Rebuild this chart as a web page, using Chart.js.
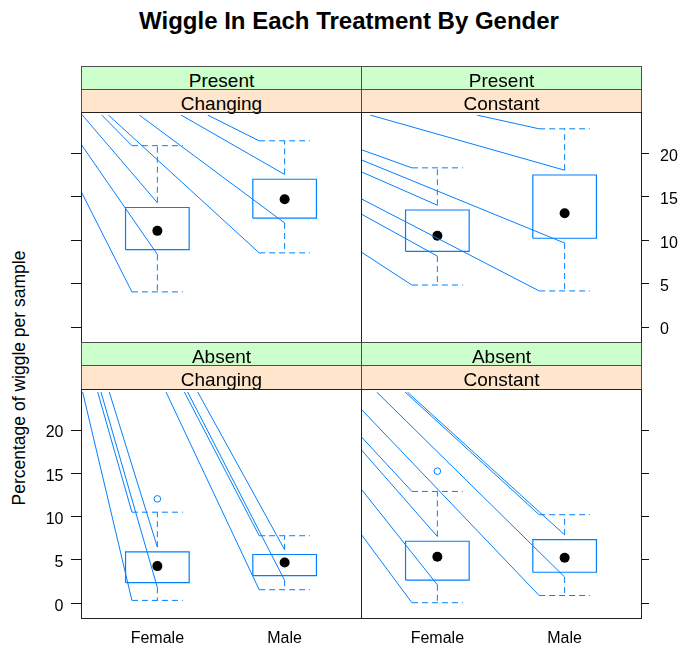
<!DOCTYPE html>
<html><head><meta charset="utf-8">
<script src="https://cdn.jsdelivr.net/npm/chart.js@4"></script>
<style>
html,body{margin:0;padding:0;background:#fff}
body{width:678px;height:646px;position:relative;overflow:hidden;font-family:"Liberation Sans",Arial,sans-serif;color:#000}
canvas{position:absolute}
.strip{position:absolute;box-sizing:border-box;border:1px solid #4d4d4d}
.strip span{position:absolute;left:0;right:0;text-align:center;font-size:19px;line-height:19px;white-space:nowrap}
.frame{position:absolute;box-sizing:border-box;border:1px solid #222;pointer-events:none}
.tl{position:absolute;font-size:16px;line-height:16px;white-space:nowrap}
</style></head><body>
<div id="title" style="position:absolute;left:0;width:698px;top:9px;text-align:center;font-weight:bold;font-size:24px;line-height:24px">Wiggle In Each Treatment By Gender</div>
<div id="ylab" style="position:absolute;left:19px;top:378px;transform:translate(-50%,-50%) rotate(-90deg);white-space:nowrap;font-size:17.5px;line-height:17px">Percentage of wiggle per sample</div>
<script>
// ---------- data ----------
const genders = ["Female", "Male"];
const presence = ["Present", "Absent"];      // outer strip (green)
const wiggleType = ["Changing", "Constant"]; // inner strip (peach)
const yTicks = [0, 5, 10, 15, 20];

// five-number summaries: [lower whisker, Q1, median, Q3, upper whisker]
const presentChangingFemale = [4.0, 8.86, 11.02, 13.71, 20.82];
const presentChangingMale   = [8.49, 12.48, 14.65, 16.96, 21.38];
const presentConstantFemale = [4.79, 8.67, 10.46, 13.42, 18.27];
const presentConstantMale   = [4.11, 10.17, 13.04, 17.45, 22.76];
const absentChangingFemale  = [0.27, 2.32, 4.23, 5.87, 10.46];
const absentChangingMale    = [1.50, 3.14, 4.64, 5.57, 7.74];
const absentConstantFemale  = [0.0, 2.62, 5.31, 7.10, 12.86];
const absentConstantMale    = [0.83, 3.52, 5.20, 7.29, 10.17];

// outliers
const absentChangingFemaleOut = [12.0];
const absentConstantFemaleOut = [15.2];

// stray connector lines: [gender, target, start x (category units), start y (null = enters from top)]
const presentChangingLeaders = [
  ["Female","capHi",0.563,null],["Female","whiskHi",0.41,null],["Female","whiskLo",0.4,21.0],["Female","capLo",0.4,15.58],
  ["Male","capHi",1.395,null],["Male","whiskHi",1.186,null],["Male","whiskLo",0.858,null],["Male","capLo",0.615,null]
];
const presentConstantLeaders = [
  ["Female","capHi",0.4,20.37],["Female","whiskHi",0.4,17.83],["Female","whiskLo",0.4,12.97],["Female","capLo",0.4,8.6],
  ["Male","capHi",1.309,null],["Male","whiskHi",0.471,null],["Male","whiskLo",0.4,19.2],["Male","capLo",0.4,14.72]
];
const absentChangingLeaders = [
  ["Female","capHi",0.531,null],["Female","whiskHi",0.622,null],["Female","whiskLo",0.557,null],["Female","capLo",0.413,null],
  ["Male","capHi",1.212,null],["Male","whiskHi",1.317,null],["Male","whiskLo",1.238,null],["Male","capLo",1.068,null]
];
const absentConstantLeaders = [
  ["Female","capHi",0.4,19.21],["Female","whiskHi",0.4,17.71],["Female","whiskLo",0.4,13.16],["Female","capLo",0.4,7.93],
  ["Male","capHi",0.746,null],["Male","whiskHi",0.764,null],["Male","whiskLo",0.523,null],["Male","capLo",0.4,22.39]
];

// ---------- styling / layout ----------
const BLUE = "#0080ff";
const X_MIN = 0.4, X_MAX = 2.6, Y_MIN = -1.42, Y_MAX = 24.35;
const BOX_HALF = 0.25, CAP_HALF = 0.2, WHISK_GAP = 0.55;
const DASH = [6, 4];
const PADX = 14, PADY = 2;

const panels = [
  {outer:0, inner:0, col:0, row:0, F:presentChangingFemale, M:presentChangingMale, outF:[], outM:[], leaders:presentChangingLeaders},
  {outer:0, inner:1, col:1, row:0, F:presentConstantFemale, M:presentConstantMale, outF:[], outM:[], leaders:presentConstantLeaders},
  {outer:1, inner:0, col:0, row:1, F:absentChangingFemale, M:absentChangingMale, outF:absentChangingFemaleOut, outM:[], leaders:absentChangingLeaders},
  {outer:1, inner:1, col:1, row:1, F:absentConstantFemale, M:absentConstantMale, outF:absentConstantFemaleOut, outM:[], leaders:absentConstantLeaders}
];

const colX = [81, 361];
const rowGeom = [
  {s1:66, s2:89, plot:112, h:230},
  {s1:342, s2:365, plot:389, h:229}
];

function seg(data, dash, width) {
  return {type:"scatter", data, showLine:true, borderColor:BLUE, borderWidth:width||1,
          borderDash:dash||[], pointRadius:0, tension:0, fill:false};
}

function el(tag, cls, styles, text) {
  const e = document.createElement(tag);
  if (cls) e.className = cls;
  Object.assign(e.style, styles);
  if (text !== undefined) e.textContent = text;
  document.body.appendChild(e);
  return e;
}

// tick marks drawn from the chart's own y scale
const tickPlugin = {
  id: "latticeTicks",
  afterDraw(chart, args, opts) {
    const ctx = chart.ctx, a = chart.chartArea, ys = chart.scales.y;
    ctx.save();
    ctx.strokeStyle = "#111"; ctx.lineWidth = 1;
    yTicks.forEach(v => {
      const py = Math.round(ys.getPixelForValue(v)) + 0.5;
      ctx.beginPath();
      if (opts.side === "left") { ctx.moveTo(a.left - 10, py); ctx.lineTo(a.left, py); }
      else { ctx.moveTo(a.right, py); ctx.lineTo(a.right + 8, py); }
      ctx.stroke();
    });
    ctx.restore();
  }
};

panels.forEach(p => {
  const g = rowGeom[p.row];
  const left = colX[p.col];
  // strips
  const s1 = el("div", "strip", {left:left+"px", top:g.s1+"px", width:"281px", height:(g.s2-g.s1+1)+"px", background:"#ccffcc"});
  const t1 = document.createElement("span"); t1.textContent = presence[p.outer]; t1.style.top = "3.6px"; s1.appendChild(t1);
  const s2 = el("div", "strip", {left:left+"px", top:g.s2+"px", width:"281px", height:(g.plot-g.s2+1)+"px", background:"#ffe5cc"});
  const t2 = document.createElement("span"); t2.textContent = wiggleType[p.inner]; t2.style.top = "3.6px"; s2.appendChild(t2);

  // canvas: plot area plus a small margin for tick marks
  const cv = document.createElement("canvas");
  const cw = 280 + 2*PADX, ch = g.h + 2*PADY;
  cv.width = cw; cv.height = ch;
  cv.style.left = (left - PADX) + "px";
  cv.style.top = (g.plot - PADY) + "px";
  cv.style.width = cw + "px"; cv.style.height = ch + "px";
  document.body.appendChild(cv);

  const datasets = [];
  const stats = {Female:p.F, Male:p.M};
  const outs = {Female:p.outF, Male:p.outM};
  genders.forEach((gname, i) => {
    const x = i + 1;
    const s = stats[gname];
    datasets.push(seg([{x:x-BOX_HALF,y:s[1]},{x:x+BOX_HALF,y:s[1]},{x:x+BOX_HALF,y:s[3]},{x:x-BOX_HALF,y:s[3]},{x:x-BOX_HALF,y:s[1]}], [], 1.2));
    datasets.push(seg([{x:x,y:s[3]+WHISK_GAP},{x:x,y:s[4]}], DASH));
    datasets.push(seg([{x:x,y:s[1]-WHISK_GAP},{x:x,y:s[0]}], DASH));
    datasets.push(seg([{x:x-CAP_HALF,y:s[4]},{x:x+CAP_HALF,y:s[4]}], DASH));
    datasets.push(seg([{x:x-CAP_HALF,y:s[0]},{x:x+CAP_HALF,y:s[0]}], DASH));
    if (outs[gname].length) {
      datasets.push({type:"scatter", data:outs[gname].map(v => ({x:x, y:v})), pointRadius:3.3,
        pointBorderColor:BLUE, pointBackgroundColor:"rgba(0,0,0,0)", pointBorderWidth:1, showLine:false});
    }
  });
  p.leaders.forEach(l => {
    const gi = genders.indexOf(l[0]);
    const x = gi + 1, s = stats[l[0]];
    const ends = {
      capHi:{x:x-CAP_HALF, y:s[4]}, whiskHi:{x:x, y:s[3]+WHISK_GAP},
      whiskLo:{x:x, y:s[1]-WHISK_GAP}, capLo:{x:x-CAP_HALF, y:s[0]}
    };
    datasets.push(seg([{x:l[2], y:(l[3] === null ? Y_MAX : l[3])}, ends[l[1]]], [], 1));
  });
  datasets.push({type:"scatter", data:genders.map((gname,i) => ({x:i+1, y:stats[gname][2]})),
    pointRadius:5, pointBackgroundColor:"#000", pointBorderWidth:0, showLine:false});

  const side = p.col === 0 ? "left" : "right";
  const showYLabels = (p.row === 0 && p.col === 1) || (p.row === 1 && p.col === 0);

  const chart = new Chart(cv, {
    type:"scatter",
    data:{datasets},
    plugins:[tickPlugin],
    options:{
      responsive:false, animation:false, devicePixelRatio:1, events:[],
      layout:{padding:{left:PADX,right:PADX,top:PADY,bottom:PADY}},
      plugins:{legend:{display:false}, tooltip:{enabled:false}, title:{display:false}, latticeTicks:{side}},
      scales:{
        x:{type:"linear", min:X_MIN, max:X_MAX, display:false},
        y:{type:"linear", min:Y_MIN, max:Y_MAX, display:false}
      }
    }
  });

  // tick labels positioned through the chart's scales
  const cTop = g.plot - PADY, cLeft = left - PADX;
  if (showYLabels) {
    yTicks.forEach(v => {
      const py = cTop + chart.scales.y.getPixelForValue(v);
      if (side === "left") {
        el("div", "tl", {right:(678 - 63.5)+"px", top:(py - 5.2)+"px", textAlign:"right"}, String(v));
      } else {
        el("div", "tl", {left:"660px", top:(py - 5.2)+"px"}, String(v));
      }
    });
  }
  if (p.row === 1) {
    genders.forEach((gname, i) => {
      const px = cLeft + chart.scales.x.getPixelForValue(i + 1);
      el("div", "tl", {left:(px - 60)+"px", width:"120px", textAlign:"center", top:"629.8px"}, gname);
    });
  }

  el("div", "frame", {left:left+"px", top:g.plot+"px", width:"281px", height:(g.h+1)+"px"});
});
</script>
</body></html>
